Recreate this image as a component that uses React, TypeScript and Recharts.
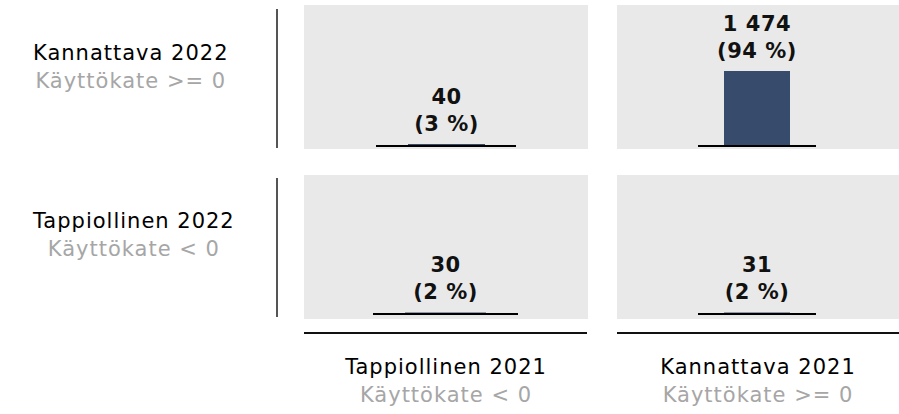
import React from 'react';
import { BarChart, Bar, XAxis, YAxis, LabelList } from 'recharts';

// Rows: 2022 status, columns: 2021 status
const rowLabels = ['Kannattava 2022', 'Tappiollinen 2022'];
const rowSubLabels = ['Käyttökate >= 0', 'Käyttökate < 0'];
const colLabels = ['Tappiollinen 2021', 'Kannattava 2021'];
const colSubLabels = ['Käyttökate < 0', 'Käyttökate >= 0'];
const countsRow1 = [40, 1474];
const countsRow2 = [30, 31];
const sharesRow1 = [3, 94];
const sharesRow2 = [2, 2];

const FONT = 'DejaVu Sans, Verdana, sans-serif';
const BAR_COLOR = '#374C6D';
const PANEL_BG = '#E9E9E9';
const Y_MAX = 2770;

const fmt = (v: number) => String(v).replace(/\B(?=(\d{3})+(?!\d))/g, ' ');

const makeLabel = (share: number) => (props: any) => {
  const { x, y, width, value } = props;
  const cx = Number(x) + Number(width) / 2;
  const yy = Number(y);
  return (
    <text textAnchor="middle" fontFamily={FONT} fontWeight="bold" fontSize={21} fill="#111" letterSpacing={0.5}>
      <tspan x={cx} y={yy - 40}>{fmt(Number(value))}</tspan>
      <tspan x={cx} y={yy - 13}>({share} %)</tspan>
    </text>
  );
};

type PanelProps = {
  value: number;
  share: number;
  left: number;
  top: number;
  width: number;
  height: number;
  margin: { top: number; right: number; bottom: number; left: number };
  barSize: number;
};

function Panel({ value, share, left, top, width, height, margin, barSize }: PanelProps) {
  const data = [{ name: 'n', value }];
  return (
    <div style={{ position: 'absolute', left, top, width, height, background: PANEL_BG }}>
      <BarChart width={width} height={height} data={data} margin={margin}>
        <XAxis dataKey="name" tick={false} tickLine={false} height={1} axisLine={{ stroke: '#000', strokeWidth: 2 }} />
        <YAxis hide domain={[0, Y_MAX]} />
        <Bar dataKey="value" fill={BAR_COLOR} barSize={barSize} isAnimationActive={false}>
          <LabelList dataKey="value" content={makeLabel(share)} />
        </Bar>
      </BarChart>
    </div>
  );
}

function TextBlock({ left, top, main, sub, center }: { left?: number; top: number; main: string; sub: string; center?: number }) {
  const style: React.CSSProperties = {
    position: 'absolute',
    top,
    fontFamily: FONT,
    fontSize: 21,
    lineHeight: '28px',
    letterSpacing: 1,
    textAlign: 'center',
    whiteSpace: 'nowrap',
  };
  if (center !== undefined) {
    style.left = center;
    style.transform = 'translateX(-50%)';
  } else {
    style.left = left;
  }
  return (
    <div style={style}>
      <div style={{ color: '#000' }}>{main}</div>
      <div style={{ color: '#A6A6A6' }}>{sub}</div>
    </div>
  );
}

export default function App() {
  return (
    <div style={{ position: 'absolute', left: 0, top: 0, width: 899, height: 414, background: '#fff', overflow: 'hidden' }}>
      <TextBlock left={33} top={39} main={rowLabels[0]} sub={rowSubLabels[0]} />
      <TextBlock left={33} top={207} main={rowLabels[1]} sub={rowSubLabels[1]} />
      <div style={{ position: 'absolute', left: 276, top: 9, width: 2, height: 139, background: '#555' }} />
      <div style={{ position: 'absolute', left: 276, top: 178, width: 2, height: 139, background: '#555' }} />

      <Panel value={countsRow1[0]} share={sharesRow1[0]} left={304} top={5} width={284} height={144}
        margin={{ top: 0, right: 72, bottom: 2, left: 72 }} barSize={77} />
      <Panel value={countsRow1[1]} share={sharesRow1[1]} left={617} top={5} width={282} height={144}
        margin={{ top: 0, right: 83, bottom: 2, left: 81 }} barSize={66} />
      <Panel value={countsRow2[0]} share={sharesRow2[0]} left={304} top={175} width={284} height={144}
        margin={{ top: 0, right: 70, bottom: 4, left: 69 }} barSize={81} />
      <Panel value={countsRow2[1]} share={sharesRow2[1]} left={617} top={175} width={282} height={144}
        margin={{ top: 0, right: 83, bottom: 4, left: 81 }} barSize={66} />

      <div style={{ position: 'absolute', left: 304, top: 332, width: 283, height: 2, background: '#111' }} />
      <div style={{ position: 'absolute', left: 617, top: 332, width: 282, height: 2, background: '#111' }} />

      <TextBlock center={446} top={353} main={colLabels[0]} sub={colSubLabels[0]} />
      <TextBlock center={758} top={353} main={colLabels[1]} sub={colSubLabels[1]} />
    </div>
  );
}
